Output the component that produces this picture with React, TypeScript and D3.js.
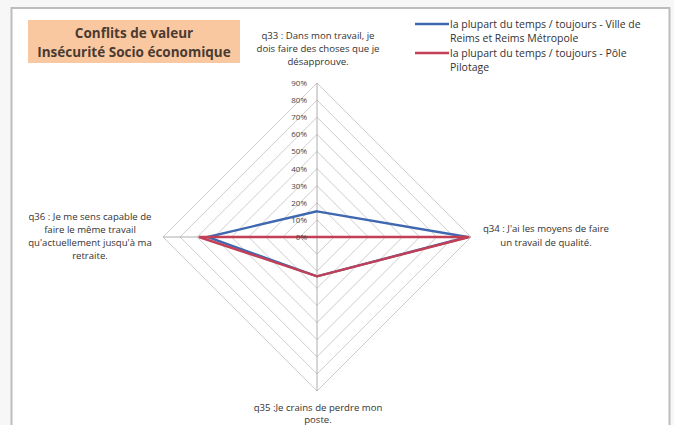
import React from "react";
import * as d3 from "d3";

const axes = [
  ["q33 : Dans mon travail, je", "dois faire des choses que je", "désapprouve."],
  ["q34 : J'ai les moyens de faire", "un travail de qualité."],
  ["q35 :Je crains de perdre mon", "poste."],
  ["q36 : Je me sens capable de", "faire le même travail", "qu'actuellement jusqu'à ma", "retraite."],
];
const ticks = [0, 0.1, 0.2, 0.3, 0.4, 0.5, 0.6, 0.7, 0.8, 0.9];
const tickLabels = ["0%", "10%", "20%", "30%", "40%", "50%", "60%", "70%", "80%", "90%"];
const seriesNames = [
  ["la plupart du temps / toujours - Ville de", "Reims et Reims Métropole"],
  ["la plupart du temps / toujours - Pôle", "Pilotage"],
];
const villeValues = [0.15, 0.88, 0.23, 0.64];
const poleValues = [0, 0.89, 0.23, 0.69];
const colors = ["#3f68b0", "#c23f56"];

export default function App() {
  const W = 674, H = 425;
  const cx = 317, cy = 237, R = 154;
  const r = d3.scaleLinear().domain([0, 0.9]).range([0, R]);
  const angle = (i: number) => (i * Math.PI) / 2;
  const pt = (i: number, v: number): [number, number] => [
    cx + r(v) * Math.sin(angle(i)),
    cy - r(v) * Math.cos(angle(i)),
  ];
  const line = d3
    .lineRadial<number>()
    .angle((_, i) => angle(i))
    .radius((d) => r(d))
    .curve(d3.curveLinearClosed);

  const ring = (v: number) =>
    d3.line().curve(d3.curveLinearClosed)(axes.map((_, i) => pt(i, v))) as string;

  const labelPos: { x: number; y: number; lh: number }[] = [
    { x: 318, y: 39, lh: 13 },
    { x: 546, y: 232, lh: 13.5 },
    { x: 318, y: 411, lh: 11.5 },
    { x: 90, y: 220, lh: 13 },
  ];

  return (
    <svg
      width={W}
      height={H}
      style={{ position: "absolute", left: 0, top: 0, background: "#fdfdfd" }}
      fontFamily="'Open Sans', 'DejaVu Sans', sans-serif"
    >
      <rect x={0} y={0} width={W} height={H} fill="#f7f7f7" />
      <rect x={11.5} y={8} width={658} height={420} fill="#ffffff" stroke="#bdbdbd" strokeWidth={2} />

      {/* grid rings */}
      {ticks.slice(1).map((t) => (
        <path key={t} d={ring(t)} fill="none" stroke="#cdcdcd" strokeWidth={1} />
      ))}
      {/* spokes */}
      {axes.map((_, i) => {
        const [x, y] = pt(i, 0.9);
        return <line key={i} x1={cx} y1={cy} x2={x} y2={y} stroke="#999" strokeWidth={0.8} />;
      })}

      {/* series */}
      {[villeValues, poleValues].map((vals, k) => (
        <path
          key={k}
          d={line(vals) as string}
          transform={`translate(${cx},${cy})`}
          fill="none"
          stroke={colors[k]}
          strokeWidth={2.4}
          strokeLinejoin="miter"
        />
      ))}

      {/* tick labels */}
      {ticks.map((t, i) => (
        <text
          key={t}
          x={cx - 10}
          y={cy - r(t) + 3}
          textAnchor="end"
          fontSize={8}
          fill="#444"
        >
          {tickLabels[i]}
        </text>
      ))}

      {/* axis labels */}
      {axes.map((lines, i) => (
        <text key={i} textAnchor="middle" fontSize={9.6} fill="#333">
          {lines.map((s, j) => (
            <tspan key={j} x={labelPos[i].x} y={labelPos[i].y + j * labelPos[i].lh}>
              {s}
            </tspan>
          ))}
        </text>
      ))}

      {/* title */}
      <rect x={28} y={20} width={212} height={43} fill="#fac8a0" />
      <text textAnchor="middle" fontSize={13.5} fontWeight="bold" fill="#4a3b32">
        <tspan x={134} y={38}>Conflits de valeur</tspan>
        <tspan x={134} y={57}>Insécurité Socio économique</tspan>
      </text>

      {/* legend */}
      {seriesNames.map((lines, k) => {
        const y0 = 24 + k * 29;
        return (
          <g key={k}>
            <line x1={415} x2={449} y1={y0} y2={y0} stroke={colors[k]} strokeWidth={2.4} />
            <text fontSize={10.5} fill="#333">
              {lines.map((s, j) => (
                <tspan key={j} x={450} y={y0 + 3.5 + j * 14}>
                  {s}
                </tspan>
              ))}
            </text>
          </g>
        );
      })}
    </svg>
  );
}
